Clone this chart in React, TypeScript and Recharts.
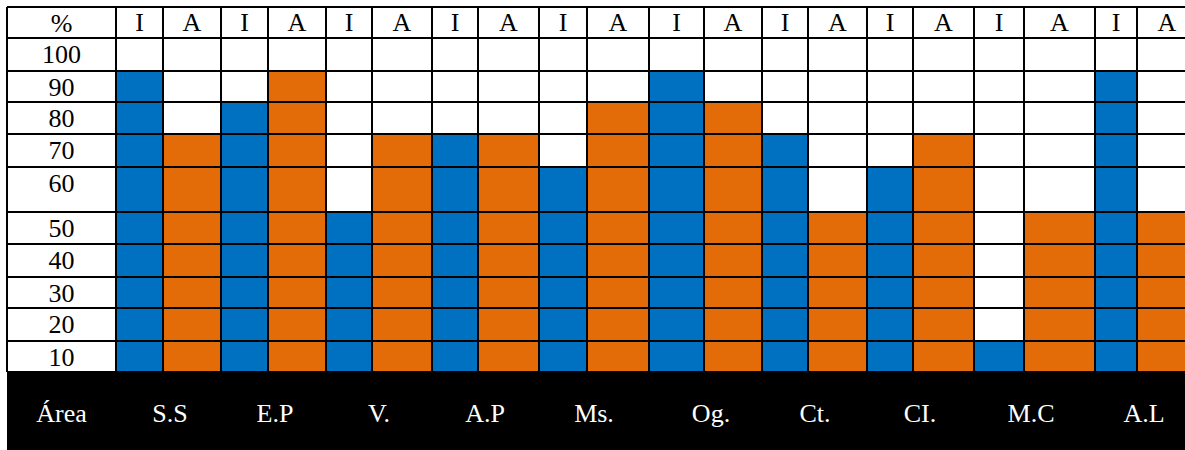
import { ComposedChart, XAxis, YAxis, ReferenceArea, ReferenceLine } from 'recharts'

// data: highest filled row per column
const AREAS = ['S.S', 'E.P', 'V.', 'A.P', 'Ms.', 'Og.', 'Ct.', 'CI.', 'M.C', 'A.L']
const GROUPS = ['I', 'A']
const VALUES_I = [90, 80, 50, 70, 60, 90, 70, 60, 10, 90]
const VALUES_A = [70, 90, 70, 70, 80, 80, 50, 70, 50, 50]
const LEVELS = [100, 90, 80, 70, 60, 50, 40, 30, 20, 10]
const CORNER_LABEL = '%'
const FOOT_LABEL = 'Área'

// table layout (px), the source table has uneven cells
const LABEL_W = 109
const COL_W = [47, 58, 47, 58, 46, 60, 46, 61, 48, 62, 55, 58, 46, 59, 46, 61, 50, 71, 42, 60]
const HEADER_H = 31
const ROW_H = [33, 31, 32, 33, 45, 32, 33, 31, 33, 31]
const FOOT_H = 78
const TOP = 7
const LEFT = 7

const BLUE = '#0070C0'
const ORANGE = '#E36C09'
const FONT = '"Liberation Serif", "Times New Roman", serif'
const FONT_SIZE = 26

const cumulative = (start: number, sizes: number[]) =>
  sizes.reduce<number[]>((acc, s) => [...acc, acc[acc.length - 1] + s], [start])

const colEdges = cumulative(LABEL_W, COL_W)
const rowEdges = cumulative(HEADER_H, ROW_H)
const PLOT_W = colEdges[colEdges.length - 1]
const GRID_BOTTOM = rowEdges[rowEdges.length - 1]
const PLOT_H = GRID_BOTTOM + FOOT_H

const columns = AREAS.flatMap((area, i) =>
  GROUPS.map((group, j) => {
    const k = i * 2 + j
    return {
      area,
      group,
      value: group === 'I' ? VALUES_I[i] : VALUES_A[i],
      x1: colEdges[k],
      x2: colEdges[k + 1],
      mid: (colEdges[k] + colEdges[k + 1]) / 2,
    }
  })
)

const rowTop = (level: number) => rowEdges[LEVELS.indexOf(level)]

const headerTicks = columns.map((c) => c.mid)
const rowTicks = [0, ...rowEdges.slice(0, LEVELS.length)]
const rowLabels = [CORNER_LABEL, ...LEVELS.map(String)]
const footTicks = [LABEL_W / 2, ...AREAS.map((_, i) => colEdges[i * 2 + 1] + 7)]
const footLabels = [FOOT_LABEL, ...AREAS]

const textStyle = { fontFamily: FONT, fontSize: FONT_SIZE }

function HeaderTick(props: any) {
  const { x, index } = props
  return (
    <text x={x} y={TOP + 24} textAnchor="middle" fill="#000" style={textStyle}>
      {columns[index].group}
    </text>
  )
}

function RowTick(props: any) {
  const { y, index } = props
  return (
    <text x={LEFT + LABEL_W / 2} y={y + 25} textAnchor="middle" fill="#000" style={textStyle}>
      {rowLabels[index]}
    </text>
  )
}

function FootTick(props: any) {
  const { x, index } = props
  return (
    <text x={x} y={TOP + GRID_BOTTOM + 50} textAnchor="middle" fill="#fff" style={textStyle}>
      {footLabels[index]}
    </text>
  )
}

export default function App() {
  return (
    <div style={{ position: 'absolute', left: 0, top: 0, width: 1185, height: 450, overflow: 'hidden', background: '#fff' }}>
      <ComposedChart
        width={LEFT + PLOT_W}
        height={450}
        data={columns}
        margin={{ top: TOP, right: 0, bottom: 0, left: LEFT }}
      >
        <XAxis
          xAxisId="top"
          orientation="top"
          mirror
          type="number"
          dataKey="mid"
          domain={[0, PLOT_W]}
          allowDataOverflow
          ticks={headerTicks}
          interval={0}
          axisLine={false}
          tickLine={false}
          tick={<HeaderTick />}
        />
        <XAxis
          xAxisId="bottom"
          orientation="bottom"
          mirror
          type="number"
          dataKey="mid"
          domain={[0, PLOT_W]}
          allowDataOverflow
          ticks={footTicks}
          interval={0}
          axisLine={false}
          tickLine={false}
          tick={<FootTick />}
        />
        <YAxis
          type="number"
          mirror
          reversed
          domain={[0, PLOT_H]}
          allowDataOverflow
          ticks={rowTicks}
          interval={0}
          axisLine={false}
          tickLine={false}
          tick={<RowTick />}
        />

        {columns.map((c) => (
          <ReferenceArea
            key={`${c.area}-${c.group}`}
            xAxisId="top"
            x1={c.x1}
            x2={c.x2}
            y1={rowTop(c.value)}
            y2={GRID_BOTTOM}
            fill={c.group === 'I' ? BLUE : ORANGE}
            fillOpacity={1}
            stroke="none"
          />
        ))}
        <ReferenceArea
          xAxisId="top"
          x1={0}
          x2={PLOT_W}
          y1={GRID_BOTTOM}
          y2={PLOT_H}
          fill="#000"
          fillOpacity={1}
          stroke="none"
        />

        {[0, ...rowEdges].map((y) => (
          <ReferenceLine key={`h${y}`} xAxisId="top" y={y} stroke="#000" strokeWidth={2} />
        ))}
        {[0, ...colEdges].map((x) => (
          <ReferenceLine
            key={`v${x}`}
            xAxisId="top"
            segment={[{ x, y: 0 }, { x, y: GRID_BOTTOM }]}
            stroke="#000"
            strokeWidth={2}
          />
        ))}
      </ComposedChart>
    </div>
  )
}
